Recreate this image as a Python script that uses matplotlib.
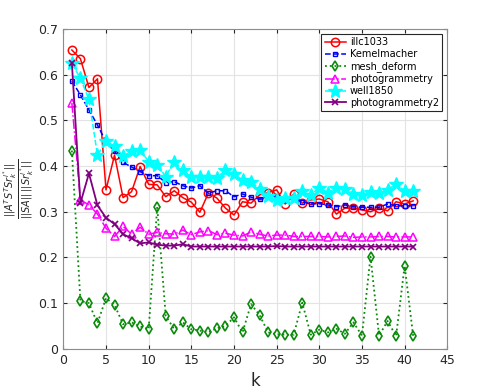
import matplotlib.pyplot as plt
import numpy as np

k = np.arange(1, 42)

illc1033 = [0.654, 0.635, 0.572, 0.591, 0.348, 0.424, 0.331, 0.344, 0.399, 0.360,
            0.359, 0.333, 0.346, 0.331, 0.321, 0.299, 0.341, 0.330, 0.308, 0.293,
            0.322, 0.319, 0.337, 0.342, 0.348, 0.317, 0.339, 0.319, 0.326, 0.328,
            0.322, 0.295, 0.308, 0.308, 0.304, 0.300, 0.308, 0.302, 0.322, 0.317,
            0.324]
kemelmacher = [0.586, 0.556, 0.523, 0.490, 0.453, 0.432, 0.408, 0.398, 0.388, 0.379,
               0.379, 0.364, 0.366, 0.357, 0.352, 0.357, 0.341, 0.346, 0.346, 0.333,
               0.339, 0.332, 0.328, 0.335, 0.333, 0.326, 0.328, 0.322, 0.317, 0.318,
               0.315, 0.311, 0.315, 0.311, 0.310, 0.310, 0.310, 0.317, 0.313, 0.313,
               0.313]
mesh_deform = [0.434, 0.105, 0.100, 0.056, 0.111, 0.096, 0.054, 0.058, 0.049, 0.043,
               0.311, 0.072, 0.043, 0.058, 0.043, 0.040, 0.036, 0.045, 0.050, 0.069,
               0.036, 0.098, 0.074, 0.036, 0.032, 0.031, 0.031, 0.101, 0.031, 0.042,
               0.036, 0.044, 0.033, 0.058, 0.029, 0.202, 0.029, 0.061, 0.028, 0.182,
               0.028]
photogrammetry = [0.538, 0.326, 0.315, 0.295, 0.264, 0.246, 0.268, 0.251, 0.266, 0.251,
                  0.255, 0.252, 0.251, 0.260, 0.250, 0.256, 0.259, 0.250, 0.253, 0.249,
                  0.247, 0.256, 0.251, 0.247, 0.249, 0.249, 0.246, 0.246, 0.246, 0.246,
                  0.245, 0.246, 0.247, 0.244, 0.245, 0.245, 0.246, 0.246, 0.245, 0.245,
                  0.245]
well1850 = [0.625, 0.592, 0.546, 0.424, 0.454, 0.444, 0.422, 0.433, 0.435, 0.410,
            0.403, 0.377, 0.410, 0.391, 0.376, 0.376, 0.376, 0.374, 0.392, 0.382,
            0.370, 0.366, 0.350, 0.335, 0.326, 0.330, 0.330, 0.346, 0.337, 0.353,
            0.342, 0.352, 0.350, 0.339, 0.337, 0.344, 0.341, 0.348, 0.361, 0.346,
            0.346]
photogrammetry2 = [0.626, 0.319, 0.384, 0.314, 0.287, 0.273, 0.251, 0.242, 0.231, 0.233,
                   0.228, 0.226, 0.226, 0.229, 0.224, 0.224, 0.224, 0.224, 0.224, 0.224,
                   0.224, 0.224, 0.224, 0.224, 0.225, 0.224, 0.224, 0.224, 0.224, 0.224,
                   0.224, 0.224, 0.224, 0.224, 0.224, 0.224, 0.224, 0.224, 0.224, 0.224,
                   0.224]

fig = plt.figure(figsize=(4.91, 3.92), dpi=100)
ax = fig.add_axes([0.129, 0.110, 0.782, 0.816])

ax.plot(k, illc1033, "-o", color="red", mfc="none", ms=6, lw=1.1, mew=1.1, label="illc1033")
ax.plot(k, kemelmacher, "--s", color="blue", mfc="none", ms=3.5, lw=1.1, mew=1.0, label="Kemelmacher")
ax.plot(k, mesh_deform, ":d", color="#0a8a0a", mfc="none", ms=5, lw=1.3, mew=1.2, label="mesh_deform")
ax.plot(k, photogrammetry, "-.^", color="magenta", mfc="none", ms=6, lw=1.1, mew=1.1, label="photogrammetry")
ax.plot(k, well1850, "--*", color="cyan", ms=10, lw=1.1, label="well1850")
ax.plot(k, photogrammetry2, "-x", color="#800080", ms=4, lw=1.3, mew=1.2, label="photogrammetry2")

ax.set_xlim(0, 45)
ax.set_ylim(0, 0.7)
ax.set_xticks(np.arange(0, 46, 5))
ax.set_yticks(np.arange(0, 0.71, 0.1))
ax.set_yticklabels(["0", "0.1", "0.2", "0.3", "0.4", "0.5", "0.6", "0.7"])
ax.grid(True, color="#e3e3e3", lw=0.8)
ax.set_axisbelow(True)
ax.tick_params(direction="in", top=True, right=True, labelsize=9, colors="#262626", length=3)
for s in ax.spines.values():
    s.set_color("#8c8c8c")

ax.set_xlabel("k", fontsize=12, color="#262626")
ax.set_ylabel(r"$\frac{||A^T S^T S r_k^{l^*}||}{||SA|| \, ||S r_k^{l^*}||}$", fontsize=10, color="#262626", labelpad=1)

# legende schmaler wie im original
leg = ax.legend(loc="upper right", fontsize=7, fancybox=False, framealpha=1,
                edgecolor="#262626", borderaxespad=0.5, handlelength=2.2,
                handletextpad=0.4, labelspacing=0.2, borderpad=0.35)
leg.get_frame().set_linewidth(0.8)

plt.savefig("out.png", dpi=100)
